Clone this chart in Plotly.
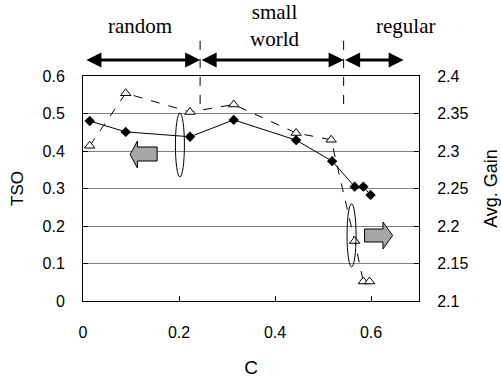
import plotly.graph_objects as go

# Data
C = [0.014, 0.089, 0.223, 0.314, 0.444, 0.519, 0.566, 0.584, 0.599]
TSO = [0.48, 0.451, 0.438, 0.483, 0.429, 0.373, 0.305, 0.305, 0.283]
C_gain = [0.014, 0.089, 0.223, 0.314, 0.444, 0.517, 0.566, 0.584, 0.597]
AVG_GAIN = [2.307, 2.377, 2.352, 2.362, 2.324, 2.315, 2.18, 2.126, 2.126]

x_ticks = [0, 0.2, 0.4, 0.6]
regions = ["random", "small<br>world", "regular"]

fig = go.Figure()
fig.add_trace(go.Scatter(x=C, y=TSO, mode="lines+markers",
                         line=dict(color="black", width=1),
                         marker=dict(symbol="diamond", size=8, color="black"),
                         yaxis="y", showlegend=False))
fig.add_trace(go.Scatter(x=C_gain, y=AVG_GAIN, mode="lines+markers",
                         line=dict(color="black", width=1, dash="dash"),
                         marker=dict(symbol="triangle-up", size=9, color="white",
                                     line=dict(color="black", width=1)),
                         yaxis="y2", showlegend=False))

font = dict(family="Liberation Sans, Arial, sans-serif", size=16, color="black")

fig.update_layout(
    width=501, height=381,
    margin=dict(l=83, r=82, t=76, b=80),
    paper_bgcolor="white", plot_bgcolor="white",
    font=font,
    xaxis=dict(range=[0, 0.7], tickvals=x_ticks, ticks="inside", ticklen=5,
               tickcolor="black", showline=True, linecolor="black", linewidth=1,
               mirror=True, showgrid=False, zeroline=False, automargin=False,
               ticklabelstandoff=17,
               title=dict(text="C", standoff=20)),
    yaxis=dict(range=[0, 0.6], dtick=0.1, ticks="inside", ticklen=5,
               tickcolor="black", showline=True, linecolor="black", linewidth=1,
               showgrid=True, gridcolor="#808080", gridwidth=1, zeroline=False,
               automargin=False, ticklabelstandoff=14,
               title=dict(text="TSO", standoff=14, font=dict(size=17))),
    yaxis2=dict(range=[2.1, 2.4], dtick=0.05, ticks="inside", ticklen=5,
                tickcolor="black", overlaying="y", side="right",
                showline=True, linecolor="black", linewidth=1,
                showgrid=False, zeroline=False, automargin=False,
                ticklabelstandoff=14,
                title=dict(text="Avg. Gain", standoff=17, font=dict(size=18))),
)

# Region labels
serif = dict(family="Liberation Serif, Times New Roman, serif", size=21, color="black")
for txt, xc in zip(regions, [0.119, 0.399, 0.672]):
    fig.add_annotation(text=txt, x=xc, y=1.223, xref="x", yref="paper",
                       yanchor="middle", xanchor="center",
                       showarrow=False, font=serif)

# Double-headed arrows
for a, b in [(0.004, 0.244), (0.244, 0.543), (0.543, 0.668)]:
    fig.add_annotation(text="", x=b, y=1.071, xref="x", yref="paper",
                       ax=a, ay=0, axref="x", ayref="pixel",
                       showarrow=True, arrowhead=2, arrowside="end+start",
                       arrowsize=1, arrowwidth=3, arrowcolor="black")

# Dashed vertical separators
for xv in [0.244, 0.543]:
    fig.add_shape(type="line", x0=xv, x1=xv, y0=1.156, y1=0.858,
                  xref="x", yref="paper", line=dict(color="black", width=1, dash="dash"))

# Ellipses
fig.add_shape(type="circle", xref="x", yref="y", x0=0.1925, x1=0.2113, y0=0.331, y1=0.501,
              line=dict(color="black", width=1))
fig.add_shape(type="circle", xref="x", yref="y", x0=0.5501, x1=0.5689, y0=0.091, y1=0.259,
              line=dict(color="black", width=1))

# Block arrows
left_arrow = ("M 0.0981 0.3907 L 0.1134 0.4267 L 0.1134 0.4107 L 0.1545 0.4107 "
              "L 0.1545 0.3733 L 0.1134 0.3733 L 0.1134 0.3547 Z")
right_arrow = ("M 0.6451 0.1747 L 0.6249 0.2107 L 0.6249 0.192 L 0.5866 0.192 "
               "L 0.5866 0.1573 L 0.6249 0.1573 L 0.6249 0.1387 Z")
for p in [left_arrow, right_arrow]:
    fig.add_shape(type="path", path=p, xref="x", yref="y",
                  fillcolor="#a6a6a6", line=dict(color="black", width=1))

fig.write_html("out.html", config={"displayModeBar": False},
               post_script="document.body.style.margin='0';document.body.style.padding='0';"
                           "document.documentElement.style.overflow='hidden';")
